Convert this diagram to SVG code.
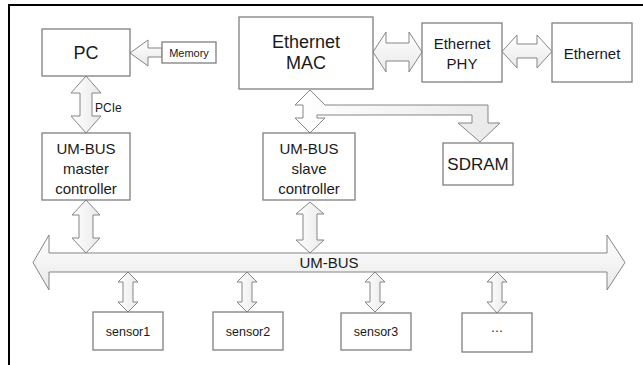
<svg xmlns="http://www.w3.org/2000/svg" width="643" height="365" viewBox="0 0 643 365">
<defs>
<linearGradient id="gv" x1="0" y1="0" x2="1" y2="0">
<stop offset="0" stop-color="#ffffff"/><stop offset="1" stop-color="#e9e9e9"/>
</linearGradient>
<linearGradient id="gh" x1="0" y1="0" x2="0" y2="1">
<stop offset="0" stop-color="#ffffff"/><stop offset="1" stop-color="#e9e9e9"/>
</linearGradient>
</defs>
<style>
.box{fill:#fff;stroke:#7f7f7f;stroke-width:1.3}
.arw{fill:url(#gh);stroke:#858585;stroke-width:1;stroke-linejoin:miter}
.arv{fill:url(#gv);stroke:#858585;stroke-width:1;stroke-linejoin:miter}
text{font-family:"Liberation Sans",Arial,sans-serif;fill:#1a1a1a;text-anchor:middle;dominant-baseline:central}
.t18{font-size:18px}.t17{font-size:17px}.t15{font-size:15px}.t12{font-size:12px}.t11{font-size:11px}.t125{font-size:12.5px}
</style>
<rect x="9" y="5" width="700" height="400" fill="#fff" stroke="#000" stroke-width="2"/>
<g id="connectors">
<polygon class="arw" points="130,53 148,40 148,48 162,48 162,57 148,57 148,66"/>
<polygon class="arw" points="373,52 386,32 386,43 409,43 409,32 422,52 409,72 409,61 386,61 386,72"/>
<polygon class="arw" points="502,51.5 517,35 517,44 537,44 537,35 552,51.5 537,68 537,58 517,58 517,68"/>
<polygon class="arv" points="86,76 101,93 92,93 92,116 101,116 86,133 71,116 80,116 80,93 71,93"/>
<text x="95" y="108" class="t12" style="text-anchor:start">PCIe</text>
<polygon class="arv" points="86,200 100,215 93,215 93,238 100,238 86,253 72,238 79,238 79,215 72,215"/>
<polygon class="arv" points="310,90 325,105 488,105 488,123 500,123 480,142 458,123 472,123 472,115 317,115 317,118 325,118 310,133 295,118 303,118 303,105 295,105"/>
<polygon class="arv" points="310,202 324,214 317,214 317,240 324,240 310,253 296,240 303,240 303,214 296,214"/>
<polygon class="arw" points="33,262.5 49,235 49,253 607,253 607,235 625,262.5 607,290 607,272 49,272 49,290"/>
<polygon class="arv" points="128,272 138,282 133,282 133,302 138,302 128,312 118,302 123,302 123,282 118,282"/>
<polygon class="arv" points="247,272 257,282 252,282 252,302 257,302 247,312 237,302 242,302 242,282 237,282"/>
<polygon class="arv" points="375,272 385,282 380,282 380,302 385,302 375,312 365,302 370,302 370,282 365,282"/>
<polygon class="arv" points="497,272 507,282 502,282 502,302 507,302 497,313 487,302 492,302 492,282 487,282"/>
<text x="329" y="262" class="t15">UM-BUS</text>
</g>
<g id="pc"><rect class="box" x="42" y="29" width="88" height="47"/><text x="86" y="53" class="t18">PC</text></g>
<g id="memory"><rect class="box" x="162" y="42" width="54" height="21"/><text x="189" y="53" class="t11">Memory</text></g>
<g id="mac"><rect class="box" x="239" y="17" width="134" height="72"/><text x="306" y="42" class="t18">Ethernet</text><text x="306" y="63" class="t18">MAC</text></g>
<g id="phy"><rect class="box" x="422" y="23" width="80" height="59"/><text x="462" y="43" class="t15">Ethernet</text><text x="462" y="63" class="t15">PHY</text></g>
<g id="ethernet"><rect class="box" x="552" y="23" width="80" height="59"/><text x="592" y="53" class="t15">Ethernet</text></g>
<g id="master"><rect class="box" x="42" y="133" width="88" height="67"/><text x="86" y="148" class="t15">UM-BUS</text><text x="86" y="168" class="t15">master</text><text x="86" y="188" class="t15">controller</text></g>
<g id="slave"><rect class="box" x="263" y="133" width="92" height="67"/><text x="309" y="148" class="t15">UM-BUS</text><text x="309" y="168" class="t15">slave</text><text x="309" y="188" class="t15">controller</text></g>
<g id="sdram"><rect class="box" x="443" y="143" width="70" height="42"/><text x="478" y="164" class="t17">SDRAM</text></g>
<g id="sensor1"><rect class="box" x="93" y="312" width="70" height="38"/><text x="128" y="332" class="t125">sensor1</text></g>
<g id="sensor2"><rect class="box" x="213" y="312" width="70" height="38"/><text x="248" y="332" class="t125">sensor2</text></g>
<g id="sensor3"><rect class="box" x="341" y="313" width="70" height="37"/><text x="376" y="332" class="t125">sensor3</text></g>
<g id="more"><rect class="box" x="462" y="313" width="70" height="39"/><text x="497" y="328" class="t125">…</text></g>
</svg>
